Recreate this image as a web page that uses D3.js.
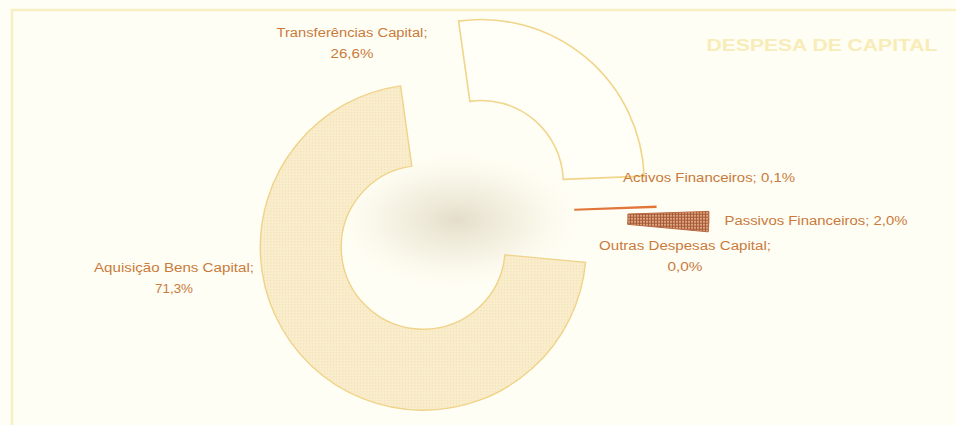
<!DOCTYPE html>
<html>
<head>
<meta charset="utf-8">
<script src="https://cdn.jsdelivr.net/npm/d3@7"></script>
<style>
  html, body { margin: 0; padding: 0; background: #fffef6; }
  svg { display: block; }
</style>
</head>
<body>
<svg id="chart" width="956" height="425"></svg>
<script>
// ---- data ----
const categories = ["Transferências Capital", "Activos Financeiros", "Passivos Financeiros", "Outras Despesas Capital", "Aquisição Bens Capital"];
const values = [26.6, 0.1, 2.0, 0.0, 71.3];
const valueLabels = ["26,6%", "0,1%", "2,0%", "0,0%", "71,3%"];
const title = "DESPESA DE CAPITAL";

// ---- layout / style ----
const W = 956, H = 425;
const cx = 455, cy = 214;
const rIn = 82, rOut = 163;
const startDeg = -8;
const explode = [41, 38, 91, 0, 46];
const labelColor = "#c97a3c";
const labelLayout = [
  { x: 352, y: 37, lines: 2, w: [151, 43] },
  { x: 709, y: 182, lines: 1, w: [172] },
  { x: 816, y: 225, lines: 1, w: [183] },
  { x: 685, y: 250, lines: 2, w: [172, 35] },
  { x: 174, y: 272, lines: 2, w: [160, 38] }
];

const svg = d3.select("#chart");
const defs = svg.append("defs");

// background
svg.append("rect").attr("width", W).attr("height", H).attr("fill", "#fffef6");
svg.append("rect").attr("x", 12).attr("y", 10).attr("width", W).attr("height", H)
  .attr("fill", "#fffef4").attr("stroke", "#f8efc4").attr("stroke-width", 2.5);

// scan shadow in the middle
const rg = defs.append("radialGradient").attr("id", "shadow");
rg.append("stop").attr("offset", "0%").attr("stop-color", "#dcd5bf").attr("stop-opacity", 0.8);
rg.append("stop").attr("offset", "50%").attr("stop-color", "#ebe5d0").attr("stop-opacity", 0.45);
rg.append("stop").attr("offset", "100%").attr("stop-color", "#fffef4").attr("stop-opacity", 0);

// patterns
const pDots = defs.append("pattern").attr("id", "dots").attr("patternUnits", "userSpaceOnUse")
  .attr("width", 3).attr("height", 3);
pDots.append("rect").attr("width", 3).attr("height", 3).attr("fill", "#faedcc");
pDots.append("rect").attr("width", 1).attr("height", 1).attr("fill", "#efdcae");

const pGrid = defs.append("pattern").attr("id", "grid").attr("patternUnits", "userSpaceOnUse")
  .attr("width", 3).attr("height", 3);
pGrid.append("rect").attr("width", 3).attr("height", 3).attr("fill", "#dca67c");
pGrid.append("rect").attr("width", 3).attr("height", 1).attr("fill", "#a6583a");
pGrid.append("rect").attr("width", 1).attr("height", 3).attr("fill", "#a6583a");

const fills = ["#fffef7", "#f2c24a", "url(#grid)", "#e9a060", "url(#dots)"];
const strokes = ["#f0d58a", "#e2763a", "#b8683e", "#e9a060", "#f0d38a"];
const strokeW = [1.6, 1.4, 1, 1, 1.4];

const g = svg.append("g").attr("transform", `translate(${cx},${cy})`);

g.append("ellipse").attr("cx", 2).attr("cy", 6).attr("rx", 135).attr("ry", 75)
  .attr("fill", "url(#shadow)");

const a0 = startDeg * Math.PI / 180;
const pie = d3.pie().sort(null).value(d => d.v).startAngle(a0).endAngle(a0 + 2 * Math.PI);
const arcs = pie(values.map((v, i) => ({ v, i })));
const arc = d3.arc().innerRadius(rIn).outerRadius(rOut);

g.selectAll("path.slice").data(arcs).join("path")
  .attr("class", "slice")
  .attr("transform", d => {
    const m = (d.startAngle + d.endAngle) / 2;
    const e = explode[d.data.i];
    return `translate(${Math.sin(m) * e},${-Math.cos(m) * e})`;
  })
  .attr("d", d => d.endAngle > d.startAngle ? arc(d) : null)
  .attr("fill", d => fills[d.data.i])
  .attr("stroke", d => strokes[d.data.i])
  .attr("stroke-width", d => strokeW[d.data.i])
  .attr("stroke-linejoin", "miter");

// labels
const lbl = svg.append("g").attr("font-family", "Liberation Sans, Arial, sans-serif")
  .attr("font-size", 12.5).attr("fill", labelColor).attr("text-anchor", "middle");
categories.forEach((c, i) => {
  const L = labelLayout[i];
  const lines = L.lines === 2 ? [c + ";", valueLabels[i]] : [c + "; " + valueLabels[i]];
  lines.forEach((t, k) => {
    lbl.append("text").attr("x", L.x).attr("y", L.y + k * 21)
      .attr("textLength", L.w[k]).attr("lengthAdjust", "spacingAndGlyphs")
      .text(t);
  });
});

// title
svg.append("text").attr("x", 822).attr("y", 51).attr("text-anchor", "middle")
  .attr("font-family", "Liberation Sans, Arial, sans-serif").attr("font-weight", "bold")
  .attr("font-size", 17).attr("fill", "#f8ecb8")
  .attr("textLength", 231).attr("lengthAdjust", "spacingAndGlyphs")
  .text(title);
</script>
</body>
</html>
